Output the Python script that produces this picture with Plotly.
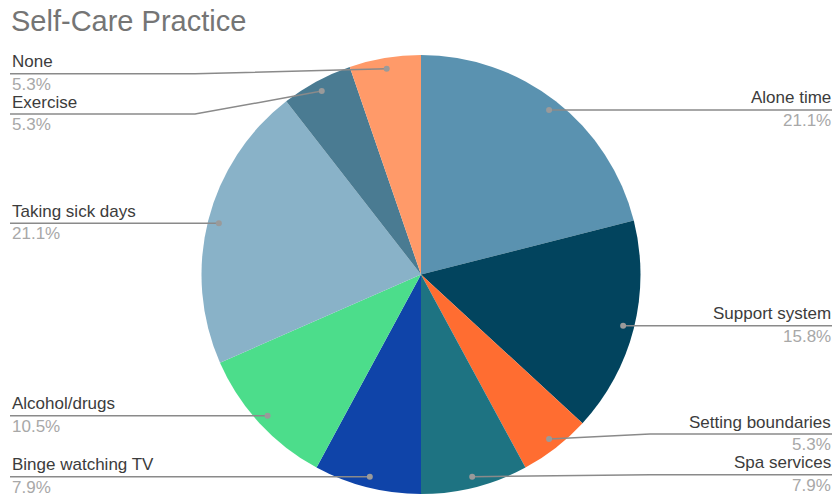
import math
import plotly.graph_objects as go

# ---- data ----
labels = ["Alone time", "Support system", "Setting boundaries", "Spa services",
          "Binge watching TV", "Alcohol/drugs", "Taking sick days", "Exercise", "None"]
counts = [8, 6, 2, 3, 3, 4, 8, 2, 2]
colors = ["#5a92b0", "#02445e", "#ff6d31", "#1e7382", "#0f44a9",
          "#4cdd8b", "#89b2c8", "#4a7b92", "#ff9a69"]
title_text = "Self-Care Practice"

# ---- layout ----
W, H = 835, 494
dom_x = [201 / W, 641 / W]
dom_y = [0.0, 1 - 55 / H]
label_shift = {"None": 5, "Exercise": 23, "Setting boundaries": -5, "Spa services": -2}
left_edge, right_edge = 10, 832
left_bend, right_bend = 195, 650
FONT = "Liberation Sans, Arial"

fig = go.Figure(go.Pie(
    labels=labels, values=counts, sort=False, direction="clockwise", rotation=0,
    marker=dict(colors=colors, line=dict(width=0)),
    textinfo="none", hoverinfo="label+percent",
    domain=dict(x=dom_x, y=dom_y), showlegend=False,
))

cx = (dom_x[0] + dom_x[1]) / 2 * W
cy = H * (1 - (dom_y[0] + dom_y[1]) / 2)
r = min((dom_x[1] - dom_x[0]) * W, (dom_y[1] - dom_y[0]) * H) / 2


def px(x):
    return x / W


def py(y):
    return 1 - y / H


total = sum(counts)
cum = 0
shapes, annots = [], []
for lab, v in zip(labels, counts):
    mid = (cum + v / 2) / total * 2 * math.pi
    cum += v
    dx = cx + 0.95 * r * math.sin(mid)
    dy = cy - 0.95 * r * math.cos(mid)
    ly = dy + label_shift.get(lab, 0)
    left = math.sin(mid) < 0
    if left:
        bx = min(left_bend, dx)
        ex = left_edge
    else:
        bx = max(right_bend, dx)
        ex = right_edge
    shapes.append(dict(type="path", xref="paper", yref="paper",
                       path=f"M {px(ex)},{py(ly)} L {px(bx)},{py(ly)} L {px(dx)},{py(dy)}",
                       line=dict(color="#8a8a8a", width=1.5)))
    shapes.append(dict(type="circle", xref="paper", yref="paper",
                       x0=px(dx - 3), x1=px(dx + 3), y0=py(dy + 3), y1=py(dy - 3),
                       fillcolor="#9a9a9a", line=dict(width=0)))
    pct = f"{v / total * 100:.1f}%"
    xa = "left" if left else "right"
    tx = px(ex) if left else px(right_edge + 1)
    annots.append(dict(text=lab, x=tx, y=py(ly - 0.5), xref="paper", yref="paper",
                       xanchor=xa, yanchor="bottom", showarrow=False,
                       font=dict(family=FONT, size=17, color="#3c3c3c")))
    annots.append(dict(text=pct, x=tx, y=py(ly - 1), xref="paper", yref="paper",
                       xanchor=xa, yanchor="top", showarrow=False,
                       font=dict(family=FONT, size=17, color="#a8a8a8")))

annots.append(dict(text=title_text, x=px(9), y=py(3), xref="paper", yref="paper",
                   xanchor="left", yanchor="top", showarrow=False,
                   font=dict(family=FONT, size=29, color="#757575")))

fig.update_layout(width=W, height=H, margin=dict(l=0, r=0, t=0, b=0),
                  paper_bgcolor="white", plot_bgcolor="white",
                  shapes=shapes, annotations=annots)
fig.write_html("out.html", config={"displayModeBar": False},
               post_script="document.body.style.margin='0';document.body.style.overflow='hidden';")
